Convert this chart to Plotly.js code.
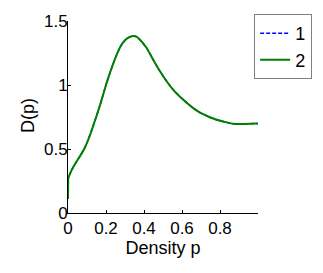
<!DOCTYPE html>
<html>
<head>
<meta charset="utf-8">
<script src="https://cdn.plot.ly/plotly-3.0.1.min.js"></script>
<style>html,body{margin:0;padding:0;background:#fff;}#chart{width:323px;height:273px;}</style>
</head>
<body>
<div id="chart"></div>
<script>
const density = [0, 0.0005, 0.002, 0.016, 0.03, 0.05, 0.068, 0.086, 0.103, 0.121, 0.138, 0.155, 0.17, 0.185, 0.203, 0.222, 0.24, 0.257, 0.28, 0.30, 0.32, 0.341, 0.36, 0.38, 0.415, 0.449, 0.485, 0.52, 0.554, 0.607, 0.659, 0.70, 0.738, 0.782, 0.83, 0.869, 0.91, 0.957, 1.0];
const series1 = [0.11, 0.2, 0.273, 0.325, 0.365, 0.414, 0.456, 0.502, 0.56, 0.63, 0.705, 0.78, 0.85, 0.925, 1.015, 1.10, 1.175, 1.24, 1.31, 1.35, 1.372, 1.383, 1.378, 1.352, 1.287, 1.196, 1.105, 1.027, 0.962, 0.884, 0.819, 0.78, 0.754, 0.728, 0.71, 0.697, 0.695, 0.697, 0.70];
const series2 = [0.11, 0.2, 0.273, 0.325, 0.365, 0.414, 0.456, 0.502, 0.56, 0.63, 0.705, 0.78, 0.85, 0.925, 1.015, 1.10, 1.175, 1.24, 1.31, 1.35, 1.372, 1.383, 1.378, 1.352, 1.287, 1.196, 1.105, 1.027, 0.962, 0.884, 0.819, 0.78, 0.754, 0.728, 0.71, 0.697, 0.695, 0.697, 0.70];
const seriesNames = ['1', '2'];
const xTicks = [0, 0.2, 0.4, 0.6, 0.8];
const xTickLabels = ['0', '0.2', '0.4', '0.6', '0.8'];
const yTicks = [0, 0.5, 1, 1.5];
const yTickLabels = ['0', '0.5', '1', '1.5'];
const xTitle = 'Density p';
const yTitle = 'D(p)';

const font = {family: 'Liberation Sans, Arial, sans-serif', size: 17, color: '#000'};

const traces = [
  {x: density, y: series1, name: seriesNames[0], type: 'scatter', mode: 'lines',
   line: {color: 'rgb(0,0,255)', width: 1.5, dash: '4px,2px', shape: 'spline', smoothing: 0.4}},
  {x: density, y: series2, name: seriesNames[1], type: 'scatter', mode: 'lines',
   line: {color: 'rgb(0,128,0)', width: 2, shape: 'spline', smoothing: 0.4}}
];

const layout = {
  width: 323, height: 273,
  margin: {l: 68, r: 65, t: 21, b: 60, pad: 0, autoexpand: false},
  paper_bgcolor: '#fff', plot_bgcolor: '#fff',
  font: font,
  showlegend: true,
  legend: {x: 1.285, y: 1.036, xanchor: 'right', yanchor: 'top',
           bordercolor: '#808080', borderwidth: 1, bgcolor: '#fff',
           font: {family: font.family, size: 18, color: '#000'}, tracegroupgap: 0},
  xaxis: {range: [0, 1], tickvals: xTicks, ticktext: xTickLabels,
          ticks: 'inside', ticklen: 3, tickcolor: '#000', showline: true, linecolor: '#000', linewidth: 1,
          showgrid: false, zeroline: false, fixedrange: true, automargin: false,
          tickfont: {family: font.family, size: 17, color: '#000'},
          title: {text: xTitle, font: {family: font.family, size: 18, color: '#000'}, standoff: 2}},
  yaxis: {range: [0, 1.5], tickvals: yTicks, ticktext: yTickLabels,
          ticks: 'inside', ticklen: 3, tickcolor: '#000', showline: true, linecolor: '#000', linewidth: 1,
          showgrid: false, zeroline: false, fixedrange: true, automargin: false,
          ticklabelstandoff: -4,
          tickfont: {family: font.family, size: 17, color: '#000'}},
  annotations: [
    {text: yTitle, xref: 'paper', yref: 'paper', x: -0.211, y: 0.51, xanchor: 'center', yanchor: 'middle',
     textangle: -90, showarrow: false, font: {family: font.family, size: 18, color: '#000'}}
  ]
};

Plotly.newPlot('chart', traces, layout, {staticPlot: true, displayModeBar: false});
</script>
</body>
</html>
